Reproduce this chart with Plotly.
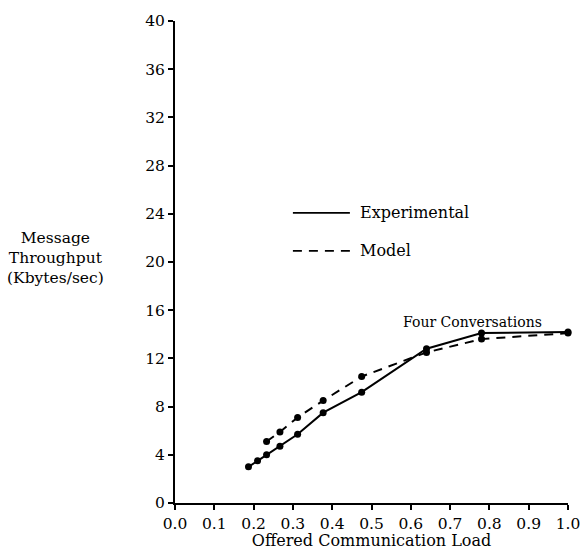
import plotly.graph_objects as go

# Offered load vs. message throughput (Kbytes/sec), four conversations
exp_load = [0.187, 0.21, 0.233, 0.267, 0.312, 0.377, 0.475, 0.64, 0.78, 1.0]
exp_tput = [3.0, 3.5, 4.0, 4.7, 5.7, 7.5, 9.2, 12.8, 14.1, 14.2]

model_load = [0.233, 0.267, 0.312, 0.377, 0.475, 0.64, 0.78, 1.0]
model_tput = [5.1, 5.9, 7.1, 8.5, 10.5, 12.5, 13.6, 14.1]

x_ticks = [0.0, 0.1, 0.2, 0.3, 0.4, 0.5, 0.6, 0.7, 0.8, 0.9, 1.0]
y_ticks = [0, 4, 8, 12, 16, 20, 24, 28, 32, 36, 40]

FONT = "DejaVu Serif"

fig = go.Figure()
fig.add_trace(go.Scatter(
    x=exp_load, y=exp_tput, mode="lines+markers", name="Experimental",
    line=dict(color="black", width=2),
    marker=dict(color="black", size=7), cliponaxis=False, showlegend=False))
fig.add_trace(go.Scatter(
    x=model_load, y=model_tput, mode="lines+markers", name="Model",
    line=dict(color="black", width=2, dash="9px,7px"),
    marker=dict(color="black", size=7), cliponaxis=False, showlegend=False))

# hand-drawn style key
key = [("Experimental", "solid", 0.602), ("Model", "9px,7px", 0.523)]
for label, dash, yk in key:
    fig.add_shape(type="line", xref="paper", yref="paper",
                  x0=0.30, x1=0.445, y0=yk, y1=yk,
                  line=dict(color="black", width=1.6, dash=dash))
    fig.add_annotation(xref="paper", yref="paper", x=0.465, y=yk,
                       text=label, showarrow=False, xanchor="left",
                       yanchor="middle", font=dict(family=FONT, size=16, color="black"))

fig.add_annotation(x=0.758, y=15.0, text="Four Conversations", showarrow=False,
                   xanchor="center", yanchor="middle",
                   font=dict(family=FONT, size=14, color="black"))

fig.add_annotation(xref="paper", yref="paper", x=-0.305, y=0.508,
                   text="Message<br>Throughput<br>(Kbytes/sec)", showarrow=False,
                   xanchor="center", yanchor="middle", align="center",
                   font=dict(family=FONT, size=15.5, color="black"))

fig.update_xaxes(range=[0, 1.0], tickvals=x_ticks, tickformat=".1f", automargin=False,
                 showgrid=False, zeroline=False, showline=True, linecolor="black",
                 linewidth=2, ticks="outside", ticklen=5, tickwidth=1.5,
                 tickcolor="black", tickfont=dict(family=FONT, size=15.5, color="black"),
                 title=dict(text="Offered Communication Load", standoff=2,
                            font=dict(family=FONT, size=16, color="black")))
fig.update_yaxes(range=[0, 40], tickvals=y_ticks, showgrid=False, zeroline=False,
                 automargin=False,
                 showline=True, linecolor="black", linewidth=2, ticks="outside",
                 ticklen=5, tickwidth=1.5, tickcolor="black",
                 tickfont=dict(family=FONT, size=15.5, color="black"))

fig.update_layout(width=585, height=550, plot_bgcolor="white", paper_bgcolor="white",
                  margin=dict(l=175, r=17, t=21, b=47), showlegend=False)

fig.write_html("out.html")
